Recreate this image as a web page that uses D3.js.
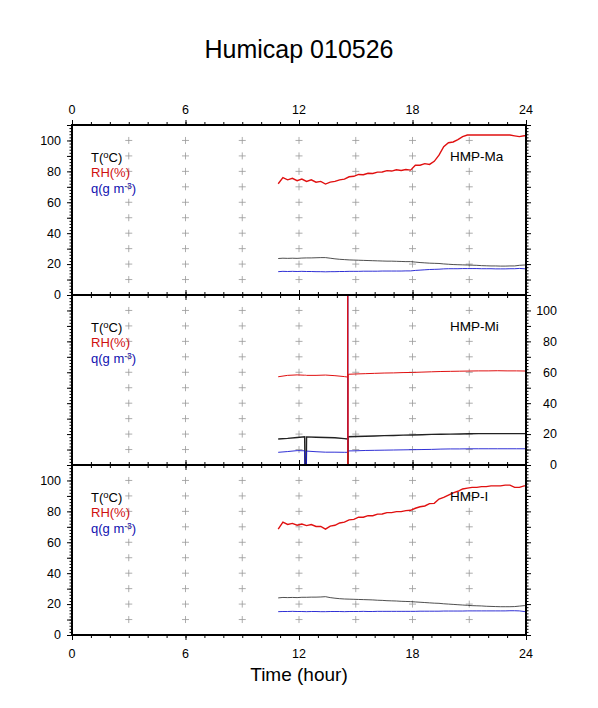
<!DOCTYPE html>
<html>
<head>
<meta charset="utf-8">
<script src="https://cdn.jsdelivr.net/npm/d3@7"></script>
<style>
  body { margin: 0; background: #fff; }
  text { font-family: "Liberation Sans", Arial, Helvetica, sans-serif; }
</style>
</head>
<body>
<div id="chart"></div>
<script>
// time grid (hours) for the Ma and I sensors
const hours = [10.90, 11.15, 11.40, 11.65, 11.90, 12.15, 12.40, 12.65, 12.90, 13.15, 13.40, 13.65, 13.90,
  14.15, 14.40, 14.65, 14.90, 15.15, 15.40, 15.65, 15.90, 16.15, 16.40, 16.65, 16.90, 17.15, 17.40, 17.65,
  17.90, 18.15, 18.40, 18.65, 18.90, 19.15, 19.40, 19.65, 19.90, 20.15, 20.40, 20.65, 20.90, 21.15, 21.40,
  21.65, 21.90, 22.15, 22.40, 22.65, 22.90, 23.15, 23.40, 23.65, 23.90, 24.00];

const rhMa = [72, 76, 74.5, 75.5, 74, 75, 73.5, 74.5, 73, 73.5, 71.8, 73, 73.5,
  74.5, 75, 76.5, 76.8, 78, 77.8, 78.8, 78.6, 79.5, 79.6, 80.5, 80.2, 81, 80.6, 81.2,
  80.8, 84, 84, 85, 84.5, 86.5, 90.5, 96, 98.5, 99, 100.5, 102.5, 103.5, 103.5, 103.5,
  103.5, 103.5, 103.5, 103.5, 103.5, 103.5, 103.5, 103, 102.5, 103, 103];
const tMa = [23.6, 23.8, 23.7, 23.8, 23.7, 23.9, 24.0, 24.0, 24.1, 24.2, 24.2, 23.8, 23.4,
  23.1, 22.9, 22.7, 22.6, 22.5, 22.4, 22.3, 22.2, 22.1, 22.0, 21.9, 21.9, 21.8, 21.7, 21.6,
  21.6, 21.3, 21.0, 20.8, 20.6, 20.5, 20.4, 20.1, 19.9, 19.7, 19.6, 19.5, 19.4, 19.3, 19.2,
  19.0, 18.9, 18.8, 18.8, 18.7, 18.7, 18.8, 18.8, 19.2, 19.4, 19.4];
const qMa = [15.1, 15.3, 15.2, 15.3, 15.2, 15.3, 15.2, 15.2, 15.1, 15.1, 15.0, 15.1, 15.1,
  15.2, 15.2, 15.3, 15.3, 15.3, 15.4, 15.4, 15.4, 15.4, 15.5, 15.5, 15.5, 15.5, 15.5, 15.6,
  15.6, 15.9, 16.1, 16.3, 16.5, 16.6, 16.7, 16.9, 17.0, 17.0, 17.0, 17.1, 17.1, 17.1, 17.1,
  17.0, 17.0, 17.0, 16.9, 16.9, 16.9, 17.0, 17.0, 17.2, 17.0, 16.9];

const rhI = [68.5, 73, 71.5, 72.2, 71, 71.8, 70.8, 71.5, 70.2, 70.2, 68.5, 70.5, 71,
  72.5, 73, 74.5, 74.8, 76.2, 76.2, 77.2, 77.2, 78.2, 78.3, 79.2, 79.2, 79.8, 79.8, 80.5,
  80.7, 82, 83, 83.5, 85, 85.2, 88, 89, 90.5, 92, 93, 94.5, 95, 95.5, 95.5,
  96, 96, 96.5, 96.5, 96.5, 97, 97, 95.5, 95.5, 96.5, 96.5];
const tI = [24.0, 24.3, 24.2, 24.3, 24.2, 24.4, 24.4, 24.5, 24.5, 24.6, 24.8, 24.2, 23.8,
  23.5, 23.3, 23.2, 23.1, 23.0, 22.9, 22.8, 22.7, 22.5, 22.4, 22.2, 22.1, 22.0, 21.8, 21.7,
  21.6, 21.4, 21.2, 21.0, 20.8, 20.6, 20.5, 20.2, 20.0, 19.8, 19.6, 19.4, 19.2, 19.0, 18.9,
  18.8, 18.6, 18.5, 18.4, 18.3, 18.3, 18.3, 18.4, 18.7, 19.0, 19.0];
const qI = [15.1, 15.2, 15.2, 15.3, 15.2, 15.2, 15.1, 15.2, 15.2, 15.1, 15.1, 15.2, 15.2,
  15.2, 15.1, 15.2, 15.2, 15.2, 15.3, 15.2, 15.2, 15.3, 15.3, 15.3, 15.3, 15.3, 15.3, 15.3,
  15.3, 15.3, 15.4, 15.4, 15.4, 15.4, 15.4, 15.5, 15.5, 15.5, 15.5, 15.5, 15.6, 15.6, 15.6,
  15.6, 15.6, 15.6, 15.6, 15.6, 15.6, 15.7, 15.7, 15.6, 15.2, 15.1];

// Mi sensor, with the two glitches at 12.35 h and 14.58 h
const hoursMi = [10.90, 11.40, 11.90, 12.30, 12.35, 12.40, 12.90, 13.40, 13.90, 14.40, 14.57, 14.58, 14.58,
  14.60, 15.00, 15.50, 16.00, 16.50, 17.00, 17.50, 18.00, 18.50, 19.00, 19.50, 20.00, 20.50, 21.00,
  21.50, 22.00, 22.50, 23.00, 23.50, 24.00];
const rhMi = [57.1, 58.0, 58.3, 58.1, 58.1, 58.0, 58.0, 58.2, 57.8, 57.2, 56.9, 200, -50,
  58.7, 58.9, 59.1, 59.3, 59.5, 59.6, 59.8, 59.9, 60.1, 60.3, 60.5, 60.6, 60.7, 60.8,
  60.9, 60.9, 61.0, 60.9, 60.9, 60.8];
const tMi = [16.8, 17.2, 17.8, 18.3, -50, 18.2, 18.0, 17.8, 17.6, 17.1, 16.8, 16.8, -50,
  18.3, 18.4, 18.6, 18.8, 19.0, 19.1, 19.3, 19.4, 19.6, 19.8, 19.9, 20.0, 20.1, 20.2,
  20.3, 20.3, 20.3, 20.3, 20.3, 20.3];
const qMi = [8.2, 8.7, 9.3, 9.2, -50, 9.0, 8.6, 8.3, 8.3, 8.2, 8.2, 200, 8.2,
  9.1, 9.2, 9.4, 9.5, 9.6, 9.7, 9.8, 9.9, 10.0, 10.1, 10.3, 10.4, 10.4, 10.5,
  10.5, 10.5, 10.5, 10.5, 10.5, 10.5];

const panelNames = ["HMP-Ma", "HMP-Mi", "HMP-I"];
const hourLabels = [0, 6, 12, 18, 24];
const levelLabels = [0, 20, 40, 60, 80, 100];
const gridHours = [3, 6, 9, 12, 15, 18, 21];
const gridLevels = [10, 20, 30, 40, 50, 60, 70, 80, 90, 100];

const panels = [
  {name: panelNames[0], t: hours, rh: rhMa, temp: tMa, q: qMa},
  {name: panelNames[1], t: hoursMi, rh: rhMi, temp: tMi, q: qMi},
  {name: panelNames[2], t: hours, rh: rhI, temp: tI, q: qI}
];

const width = 598, height = 708;
const left = 72, right = 526, top0 = 125, panelH = 170;

const svg = d3.select("#chart").append("svg")
  .attr("width", width)
  .attr("height", height);

const x = d3.scaleLinear().domain([0, 24]).range([left, right]);

svg.append("text")
  .attr("x", 299).attr("y", 58)
  .attr("text-anchor", "middle")
  .style("font-size", "25px")
  .text("Humicap 010526");

svg.append("text")
  .attr("x", 299).attr("y", 681)
  .attr("text-anchor", "middle")
  .style("font-size", "19px")
  .text("Time (hour)");

function tickAxis(axisFn, scale, values, size) {
  return axisFn(scale).tickValues(values).tickSize(size).tickFormat("");
}

panels.forEach((p, i) => {
  const top = top0 + i * panelH;
  const bottom = top + panelH;
  const y = d3.scaleLinear().domain([0, 110]).range([bottom, top]);

  const clipId = "clip" + i;
  svg.append("clipPath").attr("id", clipId)
    .append("rect")
    .attr("x", left).attr("y", top)
    .attr("width", right - left).attr("height", panelH);

  // grid crosses
  const crosses = [];
  gridHours.forEach(h => gridLevels.forEach(v => crosses.push([h, v])));
  svg.append("g").selectAll("path")
    .data(crosses)
    .enter().append("path")
    .attr("transform", d => `translate(${x(d[0])},${y(d[1])})`)
    .attr("d", "M-3.5,0H3.5M0,-3.5V3.5")
    .attr("stroke", "#999")
    .attr("stroke-width", 0.8);

  const line = d3.line()
    .x((d, j) => x(p.t[j]))
    .y(d => y(d));

  const plot = svg.append("g").attr("clip-path", `url(#${clipId})`);
  plot.append("path").datum(p.temp)
    .attr("d", line).attr("fill", "none")
    .attr("stroke", "#222").attr("stroke-width", i === 1 ? 1.4 : 0.8);
  plot.append("path").datum(p.q)
    .attr("d", line).attr("fill", "none")
    .attr("stroke", "#1a1ad0").attr("stroke-width", 0.9);
  plot.append("path").datum(p.rh)
    .attr("d", line).attr("fill", "none")
    .attr("stroke", "#e01010").attr("stroke-width", i === 1 ? 1 : 1.4);

  // axes: minor and major ticks, outward on every side
  const minorY = d3.range(0, 111, 2);
  const majorY = d3.range(0, 111, 10);
  const minorX = d3.range(0, 25, 1);
  const majorX = [0, 6, 12, 18, 24];

  const axes = [
    [d3.axisLeft, left, 0, y, minorY, 2.5],
    [d3.axisLeft, left, 0, y, majorY, 5],
    [d3.axisRight, right, 0, y, minorY, 2.5],
    [d3.axisRight, right, 0, y, majorY, 5],
    [d3.axisTop, 0, top, x, minorX, 3],
    [d3.axisTop, 0, top, x, majorX, 5],
    [d3.axisBottom, 0, bottom, x, minorX, 3],
    [d3.axisBottom, 0, bottom, x, majorX, 5]
  ];
  axes.forEach(a => {
    svg.append("g")
      .attr("transform", `translate(${a[1]},${a[2]})`)
      .call(tickAxis(a[0], a[3], a[4], a[5]))
      .call(g => g.select(".domain").remove())
      .call(g => g.selectAll("line").attr("stroke", "#000").attr("stroke-width", 1));
  });

  // value labels
  svg.append("g")
    .style("font-size", "12.5px")
    .selectAll("text")
    .data(levelLabels)
    .enter().append("text")
    .attr("x", i === 1 ? 557 : 61)
    .attr("y", d => y(d))
    .attr("dy", "0.35em")
    .attr("text-anchor", "end")
    .text(d => d);

  if (i === 0 || i === 2) {
    svg.append("g").style("font-size", "12.5px")
      .selectAll("text")
      .data(hourLabels)
      .enter().append("text")
      .attr("x", d => x(d))
      .attr("y", i === 0 ? top - 11 : bottom + 23)
      .attr("text-anchor", "middle")
      .text(d => d);
  }

  // frame
  svg.append("rect")
    .attr("x", left).attr("y", top)
    .attr("width", right - left).attr("height", panelH)
    .attr("fill", "none")
    .attr("stroke", "#000")
    .attr("stroke-width", 2);

  // legend
  const leg = svg.append("g").style("font-size", "13px");
  const tT = leg.append("text").attr("x", 91).attr("y", top + 37).attr("fill", "#000");
  tT.append("tspan").text("T(");
  tT.append("tspan").attr("dy", "-4").style("font-size", "9.5px").text("o");
  tT.append("tspan").attr("dy", "4").text("C)");
  leg.append("text").attr("x", 91).attr("y", top + 52).attr("fill", "#d01010").text("RH(%)");
  const tq = leg.append("text").attr("x", 91).attr("y", top + 67.5).attr("fill", "#1010b0");
  tq.append("tspan").text("q(g m");
  tq.append("tspan").attr("dy", "-3.5").style("font-size", "8.5px").text("-3");
  tq.append("tspan").attr("dy", "3.5").text(")");

  svg.append("text")
    .attr("x", 450).attr("y", top + 36)
    .style("font-size", "13.5px")
    .text(p.name);
});
</script>
</body>
</html>
